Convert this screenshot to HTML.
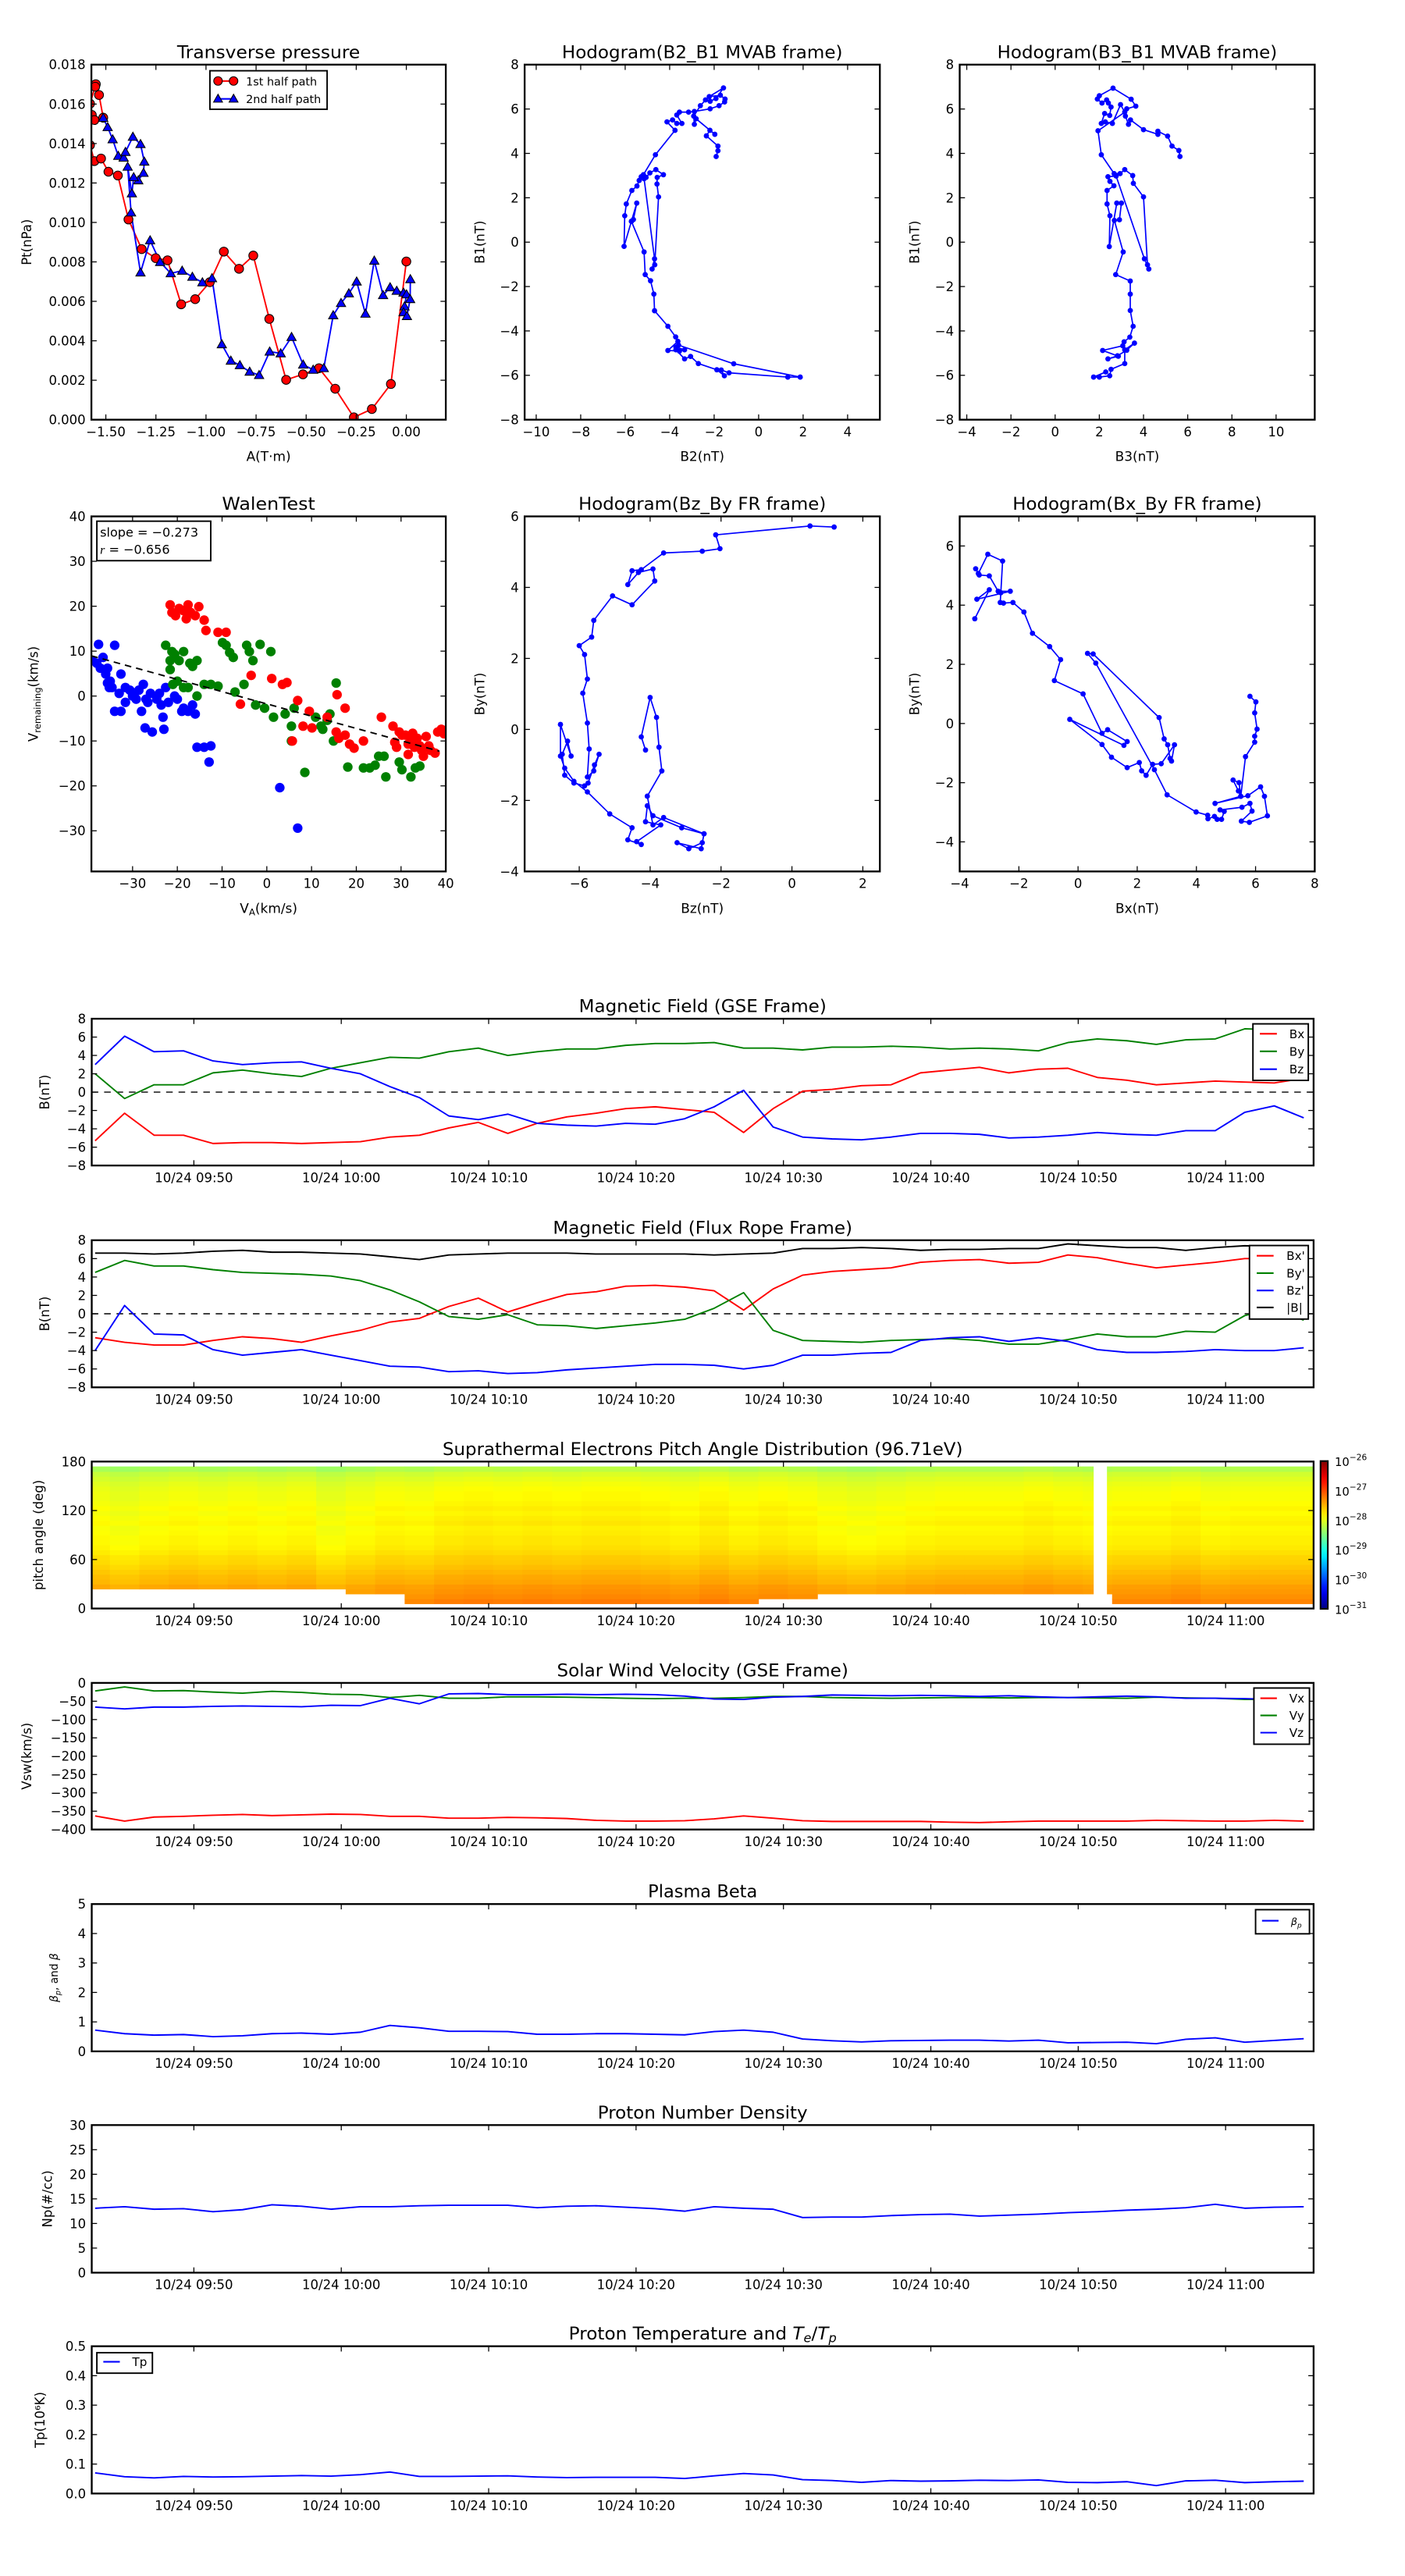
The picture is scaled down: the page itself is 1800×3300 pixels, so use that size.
<!DOCTYPE html>
<html><head><meta charset="utf-8">
<style>
html,body{margin:0;padding:0;background:#fff;}
svg{display:block;}
text{font-family:"DejaVu Sans","Liberation Sans",sans-serif;fill:#000;}
</style></head>
<body>
<svg id="fig" xmlns="http://www.w3.org/2000/svg" width="1800" height="3300" viewBox="0 0 850 1558.4" preserveAspectRatio="none">
<defs>
<linearGradient id="jetgrad" x1="0" y1="1" x2="0" y2="0"></linearGradient>
</defs>
</svg>
<script>
// ===== DATA =====
// Transverse pressure
const ptA1 = [-1.570,-1.557,-1.513,-1.534,-1.550,-1.553,-1.579,-1.579,-1.557,-1.524,-1.487,-1.440,-1.387,-1.321,-1.251,-1.192,-1.124,-1.054,-0.981,-0.911,-0.835,-0.764,-0.684,-0.600,-0.516,-0.436,-0.355,-0.262,-0.172,-0.077,0.000];
const ptP1 = [0.01545,0.01519,0.01531,0.01646,0.01701,0.01688,0.01602,0.01392,0.01311,0.01324,0.01257,0.01238,0.01015,0.00865,0.00819,0.00808,0.00585,0.00611,0.00697,0.00852,0.00765,0.00832,0.00511,0.00202,0.00230,0.00261,0.00157,0.00012,0.00054,0.00181,0.00802];
const ptA2 = [-1.513,-1.491,-1.466,-1.438,-1.411,-1.402,-1.365,-1.327,-1.308,-1.312,-1.338,-1.361,-1.370,-1.391,-1.374,-1.327,-1.279,-1.229,-1.176,-1.119,-1.068,-1.018,-0.970,-0.921,-0.876,-0.831,-0.782,-0.735,-0.682,-0.627,-0.573,-0.515,-0.465,-0.412,-0.365,-0.326,-0.287,-0.248,-0.204,-0.160,-0.116,-0.081,-0.048,-0.014,0.001,-0.009,-0.014,0.003,0.019,0.020];
const ptP2 = [0.01530,0.01483,0.01421,0.01337,0.01328,0.01357,0.01434,0.01397,0.01308,0.01251,0.01213,0.01229,0.01147,0.01282,0.01050,0.00746,0.00909,0.00799,0.00742,0.00755,0.00724,0.00696,0.00717,0.00382,0.00299,0.00276,0.00243,0.00226,0.00345,0.00336,0.00419,0.00279,0.00253,0.00261,0.00529,0.00591,0.00640,0.00700,0.00537,0.00806,0.00631,0.00671,0.00653,0.00644,0.00635,0.00574,0.00544,0.00525,0.00611,0.00712];
// Hodogram B2_B1
const h1B2 = [-1.91,-1.83,-1.83,-2.35,-2.19,-1.97,-2.81,-2.89,-2.92,-2.62,-2.39,-2.18,-1.92,-1.58,-2.22,-1.72,-1.51,-1.53,-1.78,-2.18,-2.89,-3.15,-3.56,-3.68,-3.45,-3.68,-3.87,-4.12,-3.76,-4.64,-5.18,-5.06,-4.89,-4.62,-4.28,-4.56,-4.57,-4.50,-4.67,-4.79,-4.68,-5.15,-5.28,-5.37,-5.47,-5.70,-5.95,-6.02,-6.05,-5.72,-5.63,-5.48,-5.72,-5.15,-5.10,-4.86,-4.71,-4.68,-4.08,-3.73,-3.63,-4.08,-3.56,-3.33,-3.72,-3.60,-1.12,1.87,1.31,-1.33,-1.68,-1.54,-1.88,-2.71,-3.06,-3.33,-3.72];
const h1B1 = [3.86,4.12,4.33,4.79,5.04,4.86,5.56,5.31,5.68,6.15,6.41,6.35,6.47,6.95,6.56,6.62,6.45,6.32,6.15,6.01,5.89,5.86,5.86,5.73,5.35,5.35,5.51,5.42,5.04,3.94,3.04,2.92,3.12,3.27,3.04,2.92,2.62,2.04,-1.02,-1.21,-0.75,2.86,2.95,2.78,2.53,2.33,1.72,1.19,-0.19,0.94,1.02,1.76,0.94,-0.44,-1.46,-1.74,-2.34,-3.09,-3.79,-4.27,-4.47,-4.88,-4.91,-4.85,-4.73,-4.64,-5.48,-6.08,-6.08,-5.89,-5.76,-6.02,-5.75,-5.47,-5.15,-5.26,-4.85];
// Hodogram B3_B1
const h2B3 = [5.65,5.60,5.29,5.09,4.65,4.65,4.00,3.41,3.32,3.18,3.24,3.65,3.44,2.62,2.00,1.91,2.12,2.33,2.41,2.53,2.47,2.24,2.09,2.27,2.59,2.96,3.15,1.94,2.09,2.67,2.94,3.15,3.51,3.54,4.00,4.18,4.24,4.04,2.76,2.39,2.48,2.66,2.35,2.35,2.48,2.45,2.79,3.00,2.91,2.68,3.08,2.74,3.40,3.40,3.40,3.53,3.38,3.12,3.06,2.15,2.86,2.39,2.82,3.24,3.59,3.15,3.15,2.53,2.47,2.00,1.74,2.29];
const h2B1 = [3.86,4.13,4.33,4.78,5.00,4.86,5.07,5.51,5.31,5.68,6.01,6.13,6.44,6.94,6.60,6.45,6.27,6.41,6.27,6.09,5.71,5.80,5.35,5.42,5.35,6.20,5.86,5.02,3.94,3.09,3.09,3.27,3.00,2.65,2.04,-1.02,-1.21,-0.75,2.98,2.95,2.74,2.54,2.33,1.72,1.19,-0.20,1.76,1.76,1.01,0.98,-0.44,-1.46,-1.75,-2.34,-3.08,-3.79,-4.28,-4.49,-4.67,-4.88,-5.14,-5.26,-5.12,-4.87,-4.55,-4.85,-5.47,-5.73,-6.02,-6.08,-6.08,-5.85];
// Walen test scatter
const walenBlueX = [-37.6,-39.0,-38.0,-36.6,-37.2,-35.6,-36.0,-35.0,-34.0,-32.6,-35.6,-34.6,-33.0,-35.2,-34.0,-32.6,-31.6,-30.0,-29.6,-29.2,-28.6,-28.0,-27.6,-27.0,-26.6,-26.0,-27.2,-25.6,-24.6,-24.0,-23.6,-23.2,-22.6,-22.0,-23.0,-20.6,-20.0,-19.0,-18.6,-17.6,-16.6,-16.0,-15.6,-14.0,-12.5,-12.9,2.9,6.9,-31.6,-30.6];
const walenBlueY = [11.5,7.9,7.3,8.6,6.2,6.2,4.9,3.3,11.3,4.9,2.9,1.9,0.6,1.9,-3.4,-3.4,1.9,0,0.6,-0.7,1.3,-3.4,2.6,-0.7,-1.4,0.6,-7.1,-8.0,-0.7,0.6,-2.0,-4.7,1.9,-1.4,-7.4,0,-0.7,-3.4,-2.7,-3.4,-2.0,-4.0,-11.4,-11.4,-11.1,-14.7,-20.4,-29.4,-1.4,1.3];
const walenGreenX = [-22.6,-21.2,-21.6,-20.6,-19.6,-18.6,-17.2,-16.6,-15.6,-21.6,-21.0,-20.0,-18.6,-17.6,-15.6,-14.0,-12.5,-10.9,-9.9,-9.1,-8.3,-7.5,-4.5,-3.9,-3.1,-1.5,0.9,-7.1,-5.1,-2.5,-0.5,1.5,4.1,5.5,6.1,10.9,12.1,13.5,14.1,15.5,14.9,18.1,21.6,23.0,24.2,25.0,26.2,26.6,29.6,30.2,32.2,33.2,34.2,8.5,5.5,12.5];
const walenGreenY = [11.3,9.9,7.9,9.3,7.9,9.9,7.3,6.6,7.9,5.9,2.6,3.3,1.9,1.9,0,2.6,2.6,2.2,11.9,11.3,9.7,8.6,11.3,9.9,7.9,11.5,9.9,0.9,2.6,-2.0,-2.7,-4.7,-4.0,-6.7,-2.7,-4.7,-6.7,-5.4,-4.0,2.9,-10.0,-15.8,-16.0,-16.0,-15.4,-13.4,-13.4,-18.0,-14.7,-16.4,-18.0,-16.0,-15.6,-17.0,-10.0,-7.4];
const walenRedX = [-21.6,-21.2,-20.4,-19.6,-18.6,-17.6,-17.0,-18.0,-16.0,-15.2,-14.0,-13.6,-10.9,-9.1,-5.9,-3.5,1.1,3.5,4.5,6.9,9.5,8.1,5.7,10.1,13.5,15.7,17.5,15.5,16.1,18.5,17.5,19.5,21.6,25.6,28.2,28.6,29.0,30.2,31.0,31.6,32.2,33.0,33.6,34.2,34.6,35.6,36.2,36.6,37.6,38.2,39.0,39.6,32.6,35.0,29.6,31.6];
const walenRedY = [20.3,18.6,17.9,19.5,19.0,20.3,18.6,17.2,17.9,19.9,16.9,14.6,14.2,14.2,-1.8,4.6,3.9,2.6,3.0,-1.0,-3.4,-6.7,-10.0,-7.1,-4.7,0.3,-2.7,-8.0,-9.4,-10.7,-8.7,-11.6,-10.0,-4.7,-6.7,-10.3,-11.4,-8.7,-8.7,-10.7,-10.0,-11.4,-9.4,-11.1,-12.1,-9.0,-11.1,-12.1,-12.7,-8.0,-7.4,-8.4,-8.3,-13.4,-8.0,-13.0];
const walenSlope = [-0.273];
const walenIntercept = [-1.75];
const walenR = [-0.656];
// Hodogram Bz_By (FR)
const h3Bz = [1.19,0.51,-2.15,-2.03,-2.53,-3.62,-4.25,-4.51,-4.63,-4.33,-3.92,-3.87,-4.51,-5.06,-5.59,-5.65,-6.00,-5.85,-5.77,-5.90,-5.77,-5.72,-5.77,-5.59,-5.44,-5.57,-5.75,-5.85,-6.15,-6.41,-6.48,-6.33,-6.23,-6.53,-6.53,-6.41,-6.15,-5.77,-5.14,-4.51,-4.63,-4.25,-4.38,-3.70,-4.13,-4.08,-3.92,-3.11,-2.48,-2.53,-2.91,-3.24,-2.56,-2.48,-3.62,-3.92,-4.08,-3.67,-3.75,-3.82,-4.00,-4.25,-4.13];
const h3By = [5.70,5.73,5.48,5.09,5.02,4.97,4.50,4.47,4.08,4.42,4.52,4.18,3.51,3.76,3.07,2.60,2.36,2.11,1.42,1.02,0.18,-0.55,-1.34,-1.17,-0.70,-1.00,-1.51,-1.59,-1.51,-1.29,-0.70,-0.33,-0.75,0.14,-0.75,-1.09,-1.46,-1.76,-2.38,-2.77,-3.11,-3.24,-3.16,-2.69,-2.60,-2.15,-2.43,-2.77,-2.94,-3.19,-3.36,-3.19,-3.36,-2.94,-2.48,-2.69,-1.88,-1.17,-0.50,0.34,0.90,-0.21,-0.58];
// Hodogram Bx_By (FR)
const h4Bx = [-3.49,-3.00,-3.42,-2.29,-2.70,-3.00,-3.34,-3.46,-3.37,-3.05,-2.55,-2.61,-2.63,-2.52,-2.20,-1.83,-1.54,-0.96,-0.59,-0.80,0.17,0.81,1.00,1.66,1.55,-0.28,0.81,1.13,1.66,2.07,2.15,2.30,2.52,2.81,3.26,3.16,3.11,3.03,2.91,2.74,0.51,0.32,0.60,2.58,3.01,3.99,4.38,4.39,4.61,4.70,4.85,4.94,4.80,5.54,5.81,5.88,5.52,5.79,6.40,6.30,6.17,5.74,4.63,5.50,5.42,5.24,5.44,5.50,5.66,5.97,5.97,6.05,5.97,6.01,5.81];
const h4By = [3.54,4.52,4.20,4.47,4.47,4.99,5.02,5.23,5.07,5.72,5.49,4.42,4.09,4.07,4.09,3.77,3.05,2.60,2.16,1.45,1.00,-0.33,-0.21,-0.61,-0.74,0.14,-0.71,-1.14,-1.49,-1.32,-1.60,-1.75,-1.38,-1.36,-0.72,-1.27,-1.18,-0.72,-0.52,0.20,2.35,2.37,2.04,-1.56,-2.41,-2.99,-3.10,-3.22,-3.14,-3.24,-3.24,-2.97,-2.92,-2.83,-2.70,-2.96,-3.30,-3.34,-3.12,-2.46,-2.14,-2.44,-2.70,-2.46,-2.28,-1.91,-2.00,-2.46,-1.12,-0.63,-0.43,-0.19,0.36,0.73,0.92];

// Time series (minutes after 09:40, 2-minute samples)
const tMin = [3.3,5.3,7.3,9.3,11.3,13.3,15.3,17.3,19.3,21.3,23.3,25.3,27.3,29.3,31.3,33.3,35.3,37.3,39.3,41.3,43.3,45.3,47.3,49.3,51.3,53.3,55.3,57.3,59.3,61.3,63.3,65.3,67.3,69.3,71.3,73.3,75.3,77.3,79.3,81.3,83.3,85.3];
const timeTickMin = [10,20,30,40,50,60,70,80];
const timeTickLabels = ["10/24 09:50","10/24 10:00","10/24 10:10","10/24 10:20","10/24 10:30","10/24 10:40","10/24 10:50","10/24 11:00"];
const gseBx = [-5.3,-2.3,-4.7,-4.7,-5.6,-5.5,-5.5,-5.6,-5.5,-5.4,-4.9,-4.7,-3.9,-3.3,-4.5,-3.4,-2.7,-2.3,-1.8,-1.6,-1.9,-2.2,-4.4,-1.8,0.1,0.3,0.7,0.8,2.1,2.4,2.7,2.1,2.5,2.6,1.6,1.3,0.8,1.0,1.2,1.1,1.0,1.5];
const gseBy = [2.0,-0.7,0.8,0.8,2.1,2.4,2.0,1.7,2.6,3.2,3.8,3.7,4.4,4.8,4.0,4.4,4.7,4.7,5.1,5.3,5.3,5.4,4.8,4.8,4.6,4.9,4.9,5.0,4.9,4.7,4.8,4.7,4.5,5.4,5.8,5.6,5.2,5.7,5.8,6.9,6.8,6.2];
const gseBz = [3.0,6.1,4.4,4.5,3.4,3.0,3.2,3.3,2.6,2.0,0.6,-0.6,-2.6,-3.0,-2.4,-3.4,-3.6,-3.7,-3.4,-3.5,-2.9,-1.6,0.2,-3.8,-4.9,-5.1,-5.2,-4.9,-4.5,-4.5,-4.6,-5.0,-4.9,-4.7,-4.4,-4.6,-4.7,-4.2,-4.2,-2.2,-1.5,-2.8];
const frBx = [-2.6,-3.1,-3.4,-3.4,-2.9,-2.5,-2.7,-3.1,-2.4,-1.8,-0.9,-0.5,0.8,1.7,0.2,1.2,2.1,2.4,3.0,3.1,2.9,2.5,0.4,2.7,4.2,4.6,4.8,5.0,5.6,5.8,5.9,5.5,5.6,6.4,6.1,5.5,5.0,5.3,5.6,6.0,6.0,5.8];
const frBy = [4.5,5.8,5.2,5.2,4.8,4.5,4.4,4.3,4.1,3.6,2.6,1.3,-0.3,-0.6,-0.1,-1.2,-1.3,-1.6,-1.3,-1.0,-0.6,0.6,2.3,-1.8,-2.9,-3.0,-3.1,-2.9,-2.8,-2.7,-2.9,-3.3,-3.3,-2.8,-2.2,-2.5,-2.5,-1.9,-2.0,-0.2,0.6,-0.7];
const frBz = [-4.0,0.9,-2.2,-2.3,-3.9,-4.5,-4.2,-3.9,-4.5,-5.1,-5.7,-5.8,-6.3,-6.2,-6.5,-6.4,-6.1,-5.9,-5.7,-5.5,-5.5,-5.6,-6.0,-5.6,-4.5,-4.5,-4.3,-4.2,-2.9,-2.6,-2.5,-3.0,-2.6,-3.0,-3.9,-4.2,-4.2,-4.1,-3.9,-4.0,-4.0,-3.7];
const frBt = [6.6,6.6,6.5,6.6,6.8,6.9,6.7,6.7,6.6,6.5,6.2,5.9,6.4,6.5,6.6,6.6,6.6,6.5,6.5,6.5,6.5,6.4,6.5,6.6,7.1,7.1,7.2,7.1,6.9,7.0,7.0,7.1,7.1,7.6,7.4,7.2,7.2,6.9,7.2,7.4,7.3,7.2];
const vswX = [-363,-377,-366,-364,-361,-359,-362,-360,-358,-359,-364,-364,-369,-369,-367,-368,-370,-375,-377,-377,-376,-371,-363,-369,-376,-378,-378,-378,-378,-380,-381,-379,-377,-377,-377,-377,-375,-376,-377,-377,-375,-377];
const vswY = [-22,-11,-22,-21,-25,-28,-23,-26,-31,-32,-40,-34,-42,-42,-38,-38,-39,-40,-42,-43,-42,-42,-40,-37,-37,-40,-41,-42,-41,-40,-40,-41,-40,-40,-41,-42,-39,-41,-42,-45,-45,-44];
const vswZ = [-66,-71,-66,-66,-64,-63,-64,-65,-61,-62,-42,-57,-30,-29,-32,-32,-31,-32,-31,-32,-36,-44,-45,-39,-37,-33,-34,-35,-34,-35,-37,-35,-38,-40,-38,-36,-38,-42,-42,-43,-45,-43];
const betaP = [0.72,0.60,0.55,0.57,0.50,0.53,0.60,0.62,0.58,0.65,0.88,0.80,0.68,0.68,0.67,0.58,0.58,0.60,0.60,0.58,0.56,0.67,0.72,0.65,0.42,0.36,0.32,0.36,0.37,0.38,0.38,0.35,0.38,0.29,0.30,0.31,0.26,0.41,0.46,0.31,0.37,0.43];
const npDensity = [13.1,13.4,12.9,13.0,12.4,12.8,13.8,13.5,12.9,13.4,13.4,13.6,13.7,13.7,13.7,13.2,13.5,13.6,13.3,13.0,12.5,13.4,13.1,12.9,11.2,11.3,11.3,11.6,11.8,11.9,11.5,11.7,11.9,12.2,12.4,12.7,12.9,13.2,13.9,13.1,13.3,13.4];
const tpTemp = [0.070,0.057,0.053,0.058,0.056,0.057,0.059,0.061,0.059,0.064,0.073,0.058,0.058,0.059,0.060,0.056,0.054,0.055,0.055,0.055,0.051,0.060,0.068,0.063,0.047,0.044,0.038,0.044,0.042,0.043,0.045,0.044,0.046,0.038,0.037,0.040,0.027,0.043,0.045,0.037,0.040,0.042];
// PAD (log10 flux): pitch-angle profile (30 bins of 6 deg, bottom to top) + time offsets
const padProfile = [-27.30,-27.32,-27.38,-27.42,-27.45,-27.52,-27.55,-27.60,-27.65,-27.70,-27.72,-27.78,-27.82,-27.85,-27.85,-27.88,-27.90,-27.85,-27.88,-27.92,-27.88,-27.92,-27.95,-27.95,-27.98,-28.02,-28.08,-28.15,-28.30,-28.40];
const padTimeOffset = [0.00,-0.05,0.00,0.03,0.00,0.03,0.00,0.03,-0.05,0.00,0.05,0.03,0.08,0.10,0.08,0.10,0.08,0.10,0.10,0.08,0.05,0.10,0.05,0.08,0.05,0.00,-0.03,0.00,0.03,0.05,0.05,0.05,0.08,0.05,0.03,0.05,0.05,0.08,0.03,0.05,0.05,0.05];
const padLowRow = [4,4,4,4,4,4,4,4,4,3,3,1,1,1,1,1,1,1,1,1,1,1,1,2,2,3,3,3,3,3,3,3,3,3,3,1,1,1,1,1,1,1];
const padTopRow = [28];
const padGapStart = [71.05];
const padGapEnd = [71.95];
const cbLogTicks = [-26,-27,-28,-29,-30,-31];

// ===== helpers =====
const NS = 'http://www.w3.org/2000/svg';
const svg = document.getElementById('fig');
function mk(tag, parent, attrs) {
  const e = document.createElementNS(NS, tag);
  for (const k in attrs) e.setAttribute(k, attrs[k]);
  parent.appendChild(e);
  return e;
}
function minus(s) { return String(s).replace(/-/g, '\u2212'); }
let clipN = 0;
function axes(name, x0, y0, x1, y1, xmin, xmax, ymin, ymax) {
  const g = mk('g', svg, {});
  
  
  const id = 'clip' + (clipN++);
  const cp = mk('clipPath', g, {id: id});
  mk('rect', cp, {x: x0, y: y0, width: x1 - x0, height: y1 - y0});
  const plot = mk('g', g, {'clip-path': 'url(#' + id + ')'});
  
  
  return {g, plot, x0, y0, x1, y1,
    sx: v => x0 + (v - xmin) / (xmax - xmin) * (x1 - x0),
    sy: v => y1 - (v - ymin) / (ymax - ymin) * (y1 - y0)};
}
function decorate(ax, o) {
  const tl = 3.2;
  const tg = mk('g', ax.g, {stroke: '#000', 'stroke-width': 0.6});
  
  
  o.xt.forEach((v, i) => {
    const x = ax.sx(v);
    mk('line', tg, {x1: x, x2: x, y1: ax.y1, y2: ax.y1 - tl});
    mk('line', tg, {x1: x, x2: x, y1: ax.y0, y2: ax.y0 + tl});
    const t = mk('text', ax.g, {x: x, y: ax.y1 + 10, 'font-size': 7.8, 'text-anchor': 'middle'});
    
    
    t.textContent = minus(o.xl[i]);
  });
  o.yt.forEach((v, i) => {
    const y = ax.sy(v);
    mk('line', tg, {x1: ax.x0, x2: ax.x0 + tl, y1: y, y2: y});
    mk('line', tg, {x1: ax.x1, x2: ax.x1 - tl, y1: y, y2: y});
    const t = mk('text', ax.g, {x: ax.x0 - 3.5, y: y + 2.8, 'font-size': 7.8, 'text-anchor': 'end'});
    
    
    t.textContent = minus(o.yl[i]);
  });
  const fr = mk('rect', ax.g, {x: ax.x0, y: ax.y0, width: ax.x1 - ax.x0, height: ax.y1 - ax.y0, fill: 'none', stroke: '#000', 'stroke-width': 1.1});
  
  
  if (o.title) {
    const t = mk('text', ax.g, {x: (ax.x0 + ax.x1) / 2, y: ax.y0 - 4, 'font-size': 10.6, 'text-anchor': 'middle', textLength: o.titleLen, lengthAdjust: 'spacingAndGlyphs'});
    
    
    if (o.titleHTML) o.titleHTML(t); else t.textContent = o.title;
  }
  if (o.xlabel) {
    const t = mk('text', ax.g, {x: (ax.x0 + ax.x1) / 2, y: ax.y1 + 25, 'font-size': 8, 'text-anchor': 'middle'});
    
    
    if (o.xlabelHTML) o.xlabelHTML(t); else t.textContent = o.xlabel;
  }
  if (o.ylabel) {
    const cy = (ax.y0 + ax.y1) / 2;
    const t = mk('text', ax.g, {x: o.ylx, y: cy, 'font-size': o.ylSize || 7.8, 'text-anchor': 'middle', transform: 'rotate(-90 ' + o.ylx + ' ' + cy + ')', fill: o.ylColor || '#000'});
    
    
    if (o.ylabelHTML) o.ylabelHTML(t); else t.textContent = o.ylabel;
  }
}
function range(a, b, s) { const r = []; for (let v = a; v <= b + 1e-9; v += s) r.push(+v.toFixed(6)); return r; }
function polyline(ax, xs, ys, color, name, w) {
  const pts = xs.map((x, i) => ax.sx(x).toFixed(2) + ',' + ax.sy(ys[i]).toFixed(2)).join(' ');
  const p = mk('polyline', ax.plot, {points: pts, fill: 'none', stroke: color, 'stroke-width': w || 0.9, 'stroke-linejoin': 'round'});
  
  
  return p;
}
function dots(ax, xs, ys, color, r, name, stroke) {
  const g = mk('g', ax.plot, {});
  
  
  xs.forEach((x, i) => {
    const c = mk('circle', g, {cx: ax.sx(x), cy: ax.sy(ys[i]), r: r, fill: color});
    if (stroke) { c.setAttribute('stroke', stroke); c.setAttribute('stroke-width', 0.5); }
    
    
  });
}
function tris(ax, xs, ys, color, s, name) {
  const g = mk('g', ax.plot, {});
  
  
  xs.forEach((x, i) => {
    const cx = ax.sx(x), cy = ax.sy(ys[i]);
    const p = mk('polygon', g, {points: `${cx},${cy - s} ${cx - s},${cy + s * 0.75} ${cx + s},${cy + s * 0.75}`, fill: color, stroke: '#000', 'stroke-width': 0.5});
    
    
  });
}
function legend(parent, x0, y0, x1, y1, entries, name) {
  const g = mk('g', parent, {});
  
  
  mk('rect', g, {x: x0, y: y0, width: x1 - x0, height: y1 - y0, fill: '#fff', stroke: '#000', 'stroke-width': 0.9});
  entries.forEach(e => {
    const eg = mk('g', g, {});
    
    
    if (e.draw) e.draw(eg);
    else mk('line', eg, {x1: e.lx0, x2: e.lx1, y1: e.y, y2: e.y, stroke: e.color, 'stroke-width': 1});
    const t = mk('text', eg, {x: e.tx, y: e.y + 2.6, 'font-size': e.size || 7.2});
    if (e.html) e.html(t); else t.textContent = e.label;
  });
}
function sub(t, main, s, italic) {
  const a = mk('tspan', t, {}); a.textContent = main;
  if (italic) a.setAttribute('font-style', 'italic');
  const b = mk('tspan', t, {'font-size': '70%', dy: 1.5}); b.textContent = s;
  if (italic) b.setAttribute('font-style', 'italic');
  const c = mk('tspan', t, {dy: -1.5}); return c;
}

// ===== Row 1 =====
const A1 = axes('transverse-pressure-chart', 55.3, 39.1, 269.7, 253.9, -1.572, 0.197, 0, 0.018);
polyline(A1, ptA1, ptP1, '#ff0000', 'first-half-path-line', 0.9);
polyline(A1, ptA2, ptP2, '#0000ff', 'second-half-path-line', 0.9);
dots(A1, ptA1, ptP1, '#ff0000', 2.7, 'first-half-path', '#000');
tris(A1, ptA2, ptP2, '#0000ff', 2.8, 'second-half-path');
decorate(A1, {xt: [-1.5, -1.25, -1, -0.75, -0.5, -0.25, 0], xl: ['-1.50', '-1.25', '-1.00', '-0.75', '-0.50', '-0.25', '0.00'],
  yt: range(0, 0.018, 0.002), yl: range(0, 0.018, 0.002).map(v => v.toFixed(3)),
  title: 'Transverse pressure', titleLen: 110.7, xlabel: 'A(T\u00B7m)', ylabel: 'Pt(nPa)', ylx: 19});
legend(A1.g, 127, 42.8, 197.9, 66.1, [
  {draw: g => { mk('line', g, {x1: 131.9, x2: 141.3, y1: 49, y2: 49, stroke: '#f00', 'stroke-width': 1}); mk('circle', g, {cx: 131.9, cy: 49, r: 2.6, fill: '#f00', stroke: '#000', 'stroke-width': 0.5}); mk('circle', g, {cx: 141.3, cy: 49, r: 2.6, fill: '#f00', stroke: '#000', 'stroke-width': 0.5}); }, y: 49, tx: 148.8, label: '1st half path', size: 6.8},
  {draw: g => { mk('line', g, {x1: 131.9, x2: 141.3, y1: 59.8, y2: 59.8, stroke: '#00f', 'stroke-width': 1}); [131.9, 141.3].forEach(cx => mk('polygon', g, {points: `${cx},${57} ${cx - 2.7},${61.8} ${cx + 2.7},${61.8}`, fill: '#00f', stroke: '#000', 'stroke-width': 0.5})); }, y: 59.8, tx: 148.8, label: '2nd half path', size: 6.8}
], 'pressure-legend');

const A2 = axes('hodogram-b2-b1-chart', 317.4, 39.1, 532.3, 253.9, -10.52, 5.45, -8, 8);
polyline(A2, h1B2, h1B1, '#0000ff', 'b2-b1-path', 0.8);
dots(A2, h1B2, h1B1, '#0000ff', 1.6, 'b2-b1-points');
decorate(A2, {xt: range(-10, 4, 2), xl: range(-10, 4, 2).map(String), yt: range(-8, 8, 2), yl: range(-8, 8, 2).map(String),
  title: 'Hodogram(B2_B1 MVAB frame)', titleLen: 169.8, xlabel: 'B2(nT)', ylabel: 'B1(nT)', ylx: 293});

const A3 = axes('hodogram-b3-b1-chart', 580.6, 39.1, 795.4, 253.9, -4.32, 11.75, -8, 8);
polyline(A3, h2B3, h2B1, '#0000ff', 'b3-b1-path', 0.8);
dots(A3, h2B3, h2B1, '#0000ff', 1.6, 'b3-b1-points');
decorate(A3, {xt: range(-4, 10, 2), xl: range(-4, 10, 2).map(String), yt: range(-8, 8, 2), yl: range(-8, 8, 2).map(String),
  title: 'Hodogram(B3_B1 MVAB frame)', titleLen: 169.3, xlabel: 'B3(nT)', ylabel: 'B1(nT)', ylx: 556});

// ===== Row 2 =====
const W1 = axes('walen-test-chart', 55.3, 312.4, 269.7, 527.2, -39.2, 40, -39.05, 40);
dots(W1, walenBlueX, walenBlueY, '#0000ff', 2.9, 'walen-blue');
dots(W1, walenGreenX, walenGreenY, '#008000', 2.9, 'walen-green');
dots(W1, walenRedX, walenRedY, '#ff0000', 2.9, 'walen-red');
{
  const xa = -39.2, xb = 38.6;
  const fl = mk('line', W1.plot, {x1: W1.sx(xa), y1: W1.sy(walenSlope[0] * xa + walenIntercept[0]), x2: W1.sx(xb), y2: W1.sy(walenSlope[0] * xb + walenIntercept[0]), stroke: '#000', 'stroke-width': 0.9, 'stroke-dasharray': '4,3'});
  
  
}
decorate(W1, {xt: range(-30, 40, 10), xl: range(-30, 40, 10).map(String), yt: range(-30, 40, 10), yl: range(-30, 40, 10).map(String),
  title: 'WalenTest', titleLen: 56.4, xlabel: 'VA', xlabelHTML: t => { const c = sub(t, 'V', 'A', false); c.textContent = '(km/s)'; },
  ylabel: 'Vrem', ylabelHTML: t => { const c = sub(t, 'V', 'remaining', false); c.textContent = '(km/s)'; }, ylx: 23});
{
  const g = mk('g', W1.g, {});
  
  
  mk('rect', g, {x: 58.6, y: 315.3, width: 68.9, height: 23.9, fill: '#fff', stroke: '#000', 'stroke-width': 0.9});
  const t1 = mk('text', g, {x: 60.5, y: 324.6, 'font-size': 7.6});
  t1.textContent = 'slope = ' + minus(walenSlope[0].toFixed(3));
  const t2 = mk('text', g, {x: 60.5, y: 335.1, 'font-size': 7.6});
  const it = mk('tspan', t2, {'font-style': 'italic', 'font-family': 'Liberation Serif, serif'}); it.textContent = 'r';
  const rest = mk('tspan', t2, {}); rest.textContent = ' = ' + minus(walenR[0].toFixed(3));
}

const F1 = axes('hodogram-bz-by-chart', 317.4, 312.4, 532.3, 527.2, -7.54, 2.48, -4, 6);
polyline(F1, h3Bz, h3By, '#0000ff', 'bz-by-path', 0.8);
dots(F1, h3Bz, h3By, '#0000ff', 1.6, 'bz-by-points');
decorate(F1, {xt: range(-6, 2, 2), xl: range(-6, 2, 2).map(String), yt: range(-4, 6, 2), yl: range(-4, 6, 2).map(String),
  title: 'Hodogram(Bz_By FR frame)', titleLen: 149.8, xlabel: 'Bz(nT)', ylabel: 'By(nT)', ylx: 293});

const F2 = axes('hodogram-bx-by-chart', 580.6, 312.4, 795.4, 527.2, -4, 8, -5, 7);
polyline(F2, h4Bx, h4By, '#0000ff', 'bx-by-path', 0.8);
dots(F2, h4Bx, h4By, '#0000ff', 1.6, 'bx-by-points');
decorate(F2, {xt: range(-4, 8, 2), xl: range(-4, 8, 2).map(String), yt: range(-4, 6, 2), yl: range(-4, 6, 2).map(String),
  title: 'Hodogram(Bx_By FR frame)', titleLen: 150.8, xlabel: 'Bx(nT)', ylabel: 'By(nT)', ylx: 556});

// ===== Time series =====
const TX0 = 55.5, TX1 = 794.7, TMIN = 3.07, TMAX = 85.97;
function tsAxes(name, y0, y1, ymin, ymax) { return axes(name, TX0, y0, TX1, y1, TMIN, TMAX, ymin, ymax); }
function zeroLine(ax, name) {
  const l = mk('line', ax.plot, {x1: ax.x0, x2: ax.x1, y1: ax.sy(0), y2: ax.sy(0), stroke: '#000', 'stroke-width': 0.7, 'stroke-dasharray': '4,3.5'});
  
  
}
const bTicks = range(-8, 8, 2);

const G = tsAxes('magnetic-field-gse-chart', 616.3, 705.1, -8, 8);
zeroLine(G, 'gse-zero-line');
polyline(G, tMin, gseBx, '#ff0000', 'gse-bx-line');
polyline(G, tMin, gseBy, '#008000', 'gse-by-line');
polyline(G, tMin, gseBz, '#0000ff', 'gse-bz-line');
decorate(G, {xt: timeTickMin, xl: timeTickLabels, yt: bTicks, yl: bTicks.map(String), title: 'Magnetic Field (GSE Frame)', titleLen: 149.8, ylabel: 'B(nT)', ylx: 29.8});
legend(G.g, 758, 619.4, 791.5, 653.6, [
  {lx0: 762.2, lx1: 772.5, y: 625.4, tx: 780, color: '#f00', label: 'Bx'},
  {lx0: 762.2, lx1: 772.5, y: 636, tx: 780, color: '#008000', label: 'By'},
  {lx0: 762.2, lx1: 772.5, y: 646.8, tx: 780, color: '#00f', label: 'Bz'}], 'gse-legend');

const R = tsAxes('magnetic-field-flux-rope-chart', 750.3, 839.3, -8, 8);
zeroLine(R, 'fr-zero-line');
polyline(R, tMin, frBt, '#000000', 'fr-btotal-line');
polyline(R, tMin, frBx, '#ff0000', 'fr-bx-line');
polyline(R, tMin, frBy, '#008000', 'fr-by-line');
polyline(R, tMin, frBz, '#0000ff', 'fr-bz-line');
decorate(R, {xt: timeTickMin, xl: timeTickLabels, yt: bTicks, yl: bTicks.map(String), title: 'Magnetic Field (Flux Rope Frame)', titleLen: 181.2, ylabel: 'B(nT)', ylx: 29.8});
legend(R.g, 755.9, 753.5, 791.5, 798, [
  {lx0: 760.3, lx1: 770.5, y: 759.7, tx: 778.3, color: '#f00', label: "Bx'"},
  {lx0: 760.3, lx1: 770.5, y: 770.2, tx: 778.3, color: '#008000', label: "By'"},
  {lx0: 760.3, lx1: 770.5, y: 780.7, tx: 778.3, color: '#00f', label: "Bz'"},
  {lx0: 760.3, lx1: 770.5, y: 791, tx: 778.3, color: '#000', label: '|B|'}], 'fr-legend');

// PAD heatmap
function jet(v) {
  v = Math.max(0, Math.min(1, v));
  const c = x => Math.round(255 * Math.max(0, Math.min(1, x)));
  return `rgb(${c(1.5 - Math.abs(4 * v - 3))},${c(1.5 - Math.abs(4 * v - 2))},${c(1.5 - Math.abs(4 * v - 1))})`;
}
const P = tsAxes('pitch-angle-distribution-chart', 884.2, 973.1, 0, 180);
{
  const cg = mk('g', P.plot, {});
  
  
  const nb = padProfile.length, bw = 180 / nb;
  tMin.forEach((t, i) => {
    const ta = t - 1.0, tb = t + 1.0;
    for (let j = padLowRow[i]; j <= padTopRow[0]; j++) {
      const val = padProfile[j] + padTimeOffset[i];
      const xa = P.sx(ta), xb = P.sx(tb), ya = P.sy((j + 1) * bw), yb = P.sy(j * bw);
      const r = mk('rect', cg, {x: xa.toFixed(2), y: ya.toFixed(2), width: (xb - xa + 0.3).toFixed(2), height: (yb - ya + 0.3).toFixed(2), fill: jet((val + 31) / 5)});
      
      
    }
  });
  const gap = mk('rect', cg, {x: P.sx(padGapStart[0]), y: P.y0, width: P.sx(padGapEnd[0]) - P.sx(padGapStart[0]), height: P.y1 - P.y0, fill: '#fff'});
  
  
}
decorate(P, {xt: timeTickMin, xl: timeTickLabels, yt: [0, 60, 120, 180], yl: ['0', '60', '120', '180'], title: 'Suprathermal Electrons Pitch Angle Distribution (96.71eV)', titleLen: 314.7, ylabel: 'pitch angle (deg)', ylx: 26});
{
  const grad = document.getElementById('jetgrad');
  for (let k = 0; k <= 20; k++) mk('stop', grad, {offset: (k / 20).toFixed(3), 'stop-color': jet(k / 20)});
  const cb = mk('g', svg, {});
  
  
  const cx0 = 798.9, cx1 = 803.3, cy0 = 883.9, cy1 = 973.3;
  mk('rect', cb, {x: cx0, y: cy0, width: cx1 - cx0, height: cy1 - cy0, fill: 'url(#jetgrad)', stroke: '#000', 'stroke-width': 1});
  cbLogTicks.forEach((lv, k) => {
    const y = cy0 + (-26 - lv) / 5 * (cy1 - cy0);
    const t = mk('text', cb, {x: 807.5, y: y + 3, 'font-size': 7});
    
    
    const a = mk('tspan', t, {}); a.textContent = '10';
    const b = mk('tspan', t, {'font-size': 5, dy: -3.5}); b.textContent = minus(String(lv));
  });
}

const V = tsAxes('solar-wind-velocity-chart', 1018.1, 1106.8, -400, 0);
polyline(V, tMin, vswX, '#ff0000', 'vx-line');
polyline(V, tMin, vswY, '#008000', 'vy-line');
polyline(V, tMin, vswZ, '#0000ff', 'vz-line');
decorate(V, {xt: timeTickMin, xl: timeTickLabels, yt: range(-400, 0, 50), yl: range(-400, 0, 50).map(String), title: 'Solar Wind Velocity (GSE Frame)', titleLen: 176.3, ylabel: 'Vsw(km/s)', ylx: 19});
legend(V.g, 758.6, 1021.2, 792.2, 1055.2, [
  {lx0: 762.5, lx1: 772.5, y: 1027.4, tx: 780, color: '#f00', label: 'Vx'},
  {lx0: 762.5, lx1: 772.5, y: 1037.8, tx: 780, color: '#008000', label: 'Vy'},
  {lx0: 762.5, lx1: 772.5, y: 1048.2, tx: 780, color: '#00f', label: 'Vz'}], 'velocity-legend');

const B = tsAxes('plasma-beta-chart', 1151.9, 1241, 0, 5);
polyline(B, tMin, betaP, '#0000ff', 'beta-p-line');
decorate(B, {xt: timeTickMin, xl: timeTickLabels, yt: range(0, 5, 1), yl: range(0, 5, 1).map(String), title: 'Plasma Beta', titleLen: 66.2,
  ylabel: 'beta', ylx: 35, ylSize: 6.5, ylColor: '#555', ylabelHTML: t => { const c = sub(t, '\u03B2', 'p', true); c.textContent = ', and '; const d = mk('tspan', t, {'font-style': 'italic'}); d.textContent = '\u03B2'; }});
legend(B.g, 759.6, 1155.3, 792.2, 1169.9, [
  {lx0: 763.5, lx1: 773.5, y: 1162, tx: 781, color: '#00f', label: 'bp', size: 6, html: t => { t.setAttribute('fill', '#555'); sub(t, '\u03B2', 'p', true); }}], 'beta-legend');

const N = tsAxes('proton-density-chart', 1285.6, 1374.9, 0, 30);
polyline(N, tMin, npDensity, '#0000ff', 'np-line');
decorate(N, {xt: timeTickMin, xl: timeTickLabels, yt: range(0, 30, 5), yl: range(0, 30, 5).map(String), title: 'Proton Number Density', titleLen: 127, ylabel: 'Np(#/cc)', ylx: 31.5});

const T = tsAxes('proton-temperature-chart', 1419.4, 1508.5, 0, 0.5);
polyline(T, tMin, tpTemp, '#0000ff', 'tp-line');
decorate(T, {xt: timeTickMin, xl: timeTickLabels, yt: range(0, 0.5, 0.1), yl: range(0, 0.5, 0.1).map(v => v.toFixed(1)),
  title: 'Proton Temperature', titleLen: 162, titleHTML: t => { const a = mk('tspan', t, {}); a.textContent = 'Proton Temperature and '; const c = sub(t, 'T', 'e', true); c.textContent = '/'; const d = sub(t, 'T', 'p', true); },
  ylabel: 'Tp', ylx: 27, ylabelHTML: t => { t.textContent = 'Tp(10\u2076K)'; }});
legend(T.g, 58.6, 1423.3, 92.2, 1435.7, [
  {lx0: 62.5, lx1: 72.5, y: 1428.8, tx: 80, color: '#00f', label: 'Tp'}], 'temperature-legend');
</script>
</body></html>
